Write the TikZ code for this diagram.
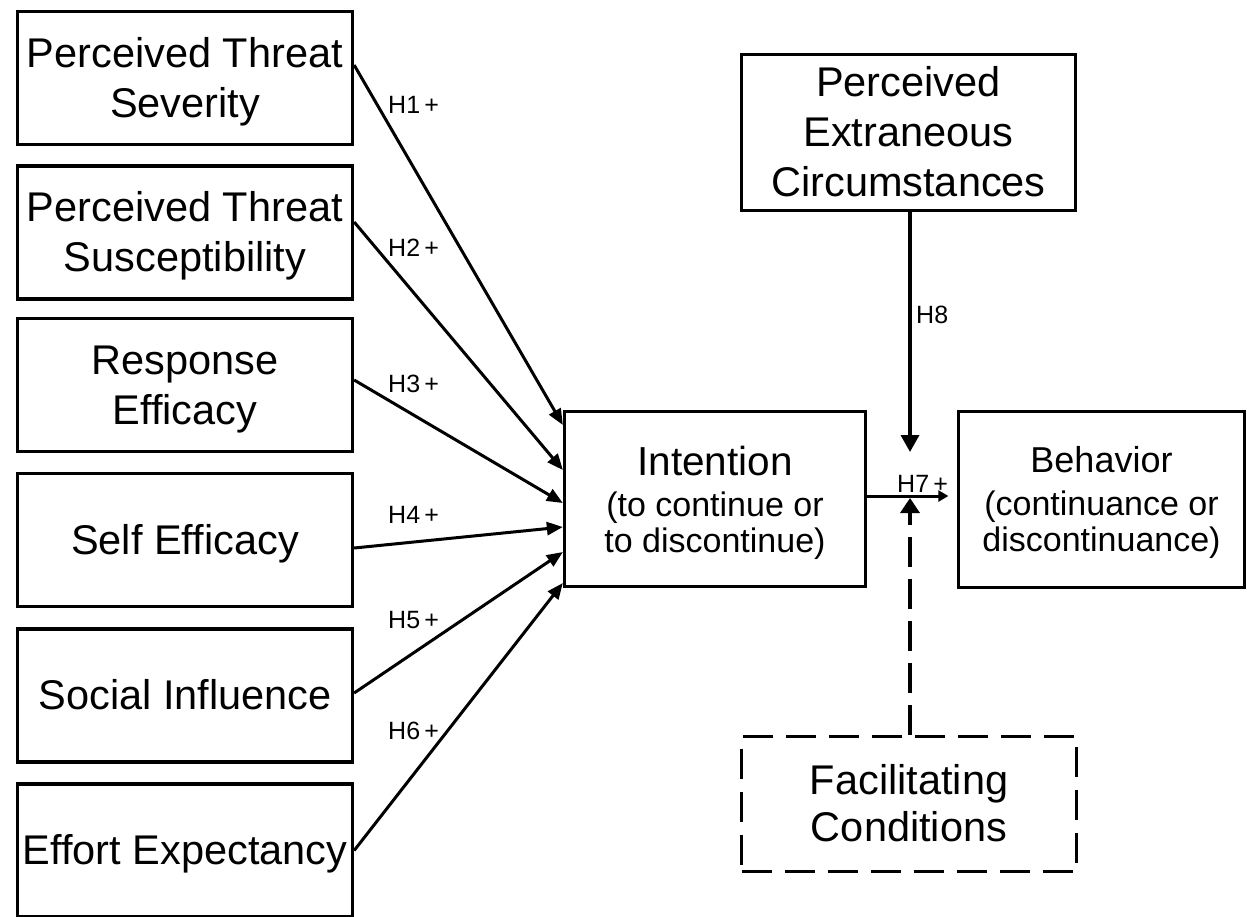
\documentclass[tikz,border=0pt]{standalone}
\usepackage{fontspec}
\setmainfont{Liberation Sans}
\usetikzlibrary{arrows.meta,calc}
% line-box struts: full ascent above the first line, descent below the last
\newcommand{\topfit}{\rule{0pt}{0.905em}}
\newcommand{\botfit}{\rule[-0.212em]{0pt}{0.212em}}

\begin{document}
\begin{tikzpicture}[x=1pt,y=-1pt,
  box/.style={draw, line width=3.3pt, rectangle, inner sep=0pt, align=center,
    font=\fontsize{41.5}{50}\selectfont},
  leftbox/.style={box, minimum width=335pt, minimum height=133pt},
  hyp/.style={line width=3pt, -{Triangle[length=16pt,width=13pt]}},
  hlabel/.style={inner sep=0pt, anchor=west, font=\fontsize{25}{25}\selectfont},
]
\fill[white] (0,0) rectangle (1247,916);
\useasboundingbox (0,0) rectangle (1247,916);

% antecedent constructs
\node[leftbox] (sev)  at (185,78)    {\topfit Perceived Threat\\Severity\botfit};
\node[leftbox] (sus)  at (185,232.5) {\topfit Perceived Threat\\Susceptibility\botfit};
\node[leftbox] (resp) at (185,385)   {\topfit Response\\Efficacy\botfit};
\node[leftbox] (self) at (185,540)   {\topfit Self Efficacy\botfit};
\node[leftbox] (soc)  at (185,695.5) {\topfit Social Influence\botfit};
\node[leftbox] (eff)  at (185,850.5) {\topfit Effort Expectancy\botfit};

% intention and behavior
\node[box, minimum width=301pt, minimum height=175pt,
      font=\fontsize{34}{36}\selectfont] (int) at (715,499)
  {{\fontsize{40.5}{40}\selectfont\topfit Intention}\\[5pt](to continue or\\to discontinue)\botfit};
\node[box, minimum width=286pt, minimum height=176pt,
      font=\fontsize{34}{36}\selectfont] (beh) at (1101.5,499.5)
  {{\fontsize{36}{36}\selectfont\topfit Behavior}\\[7pt](continuance or\\discontinuance)\botfit};

% moderators
\node[box, minimum width=334pt, minimum height=156pt] (pec) at (908.5,132.5)
  {\topfit Perceived\\Extraneous\\Circumstances\botfit};
\node[box, dash pattern=on 30pt off 13pt, minimum width=335pt, minimum height=135pt,
      font=\fontsize{41.5}{47}\selectfont] (fc) at (909,804)
  {\topfit Facilitating\\Conditions\botfit};

% hypothesised paths into intention
\draw[hyp] ([yshift=13pt]sev.east)   -- ([yshift=74pt]int.west);
\draw[hyp] ([yshift=10.5pt]sus.east) -- ([yshift=29pt]int.west);
\draw[hyp] ([yshift=5pt]resp.east)   -- ([yshift=-4pt]int.west);
\draw[hyp] ([yshift=-8pt]self.east)  -- ([yshift=-28pt]int.west);
\draw[hyp] ([yshift=2.5pt]soc.east)  -- ([yshift=-53pt]int.west);
\draw[hyp] (eff.east)                -- ([yshift=-84pt]int.west);

\node[hlabel] (l1) at (388,105) {H1\,+};
\node[hlabel] (l2) at (388,248) {H2\,+};
\node[hlabel] (l3) at (388,384) {H3\,+};
\node[hlabel] (l4) at (388,515) {H4\,+};
\node[hlabel] (l5) at (388,620) {H5\,+};
\node[hlabel] (l6) at (388,731) {H6\,+};

% intention -> behavior, with the two moderating arrows
\coordinate (m) at (910,496);
\coordinate (h8tip) at (910,452);
\coordinate (fctip) at (910,498);
\draw[line width=3pt, -{Triangle[length=10pt,width=11pt]}, shorten >=8.5pt]
  (int.east |- m) -- (beh.west |- m);
\draw[line width=3.5pt, -{Triangle[length=17pt,width=18pt]}] (pec.south -| m) -- (h8tip);
\draw[line width=3.5pt, dash pattern=on 30pt off 12pt, -{Triangle[length=15pt,width=19pt]}]
  (fc.north -| m) -- (fctip);

\node[hlabel] (l7) at (897,483.5) {H7\,+};
\node[hlabel] (l8) at (916,315) {H8};
\end{tikzpicture}
\end{document}
